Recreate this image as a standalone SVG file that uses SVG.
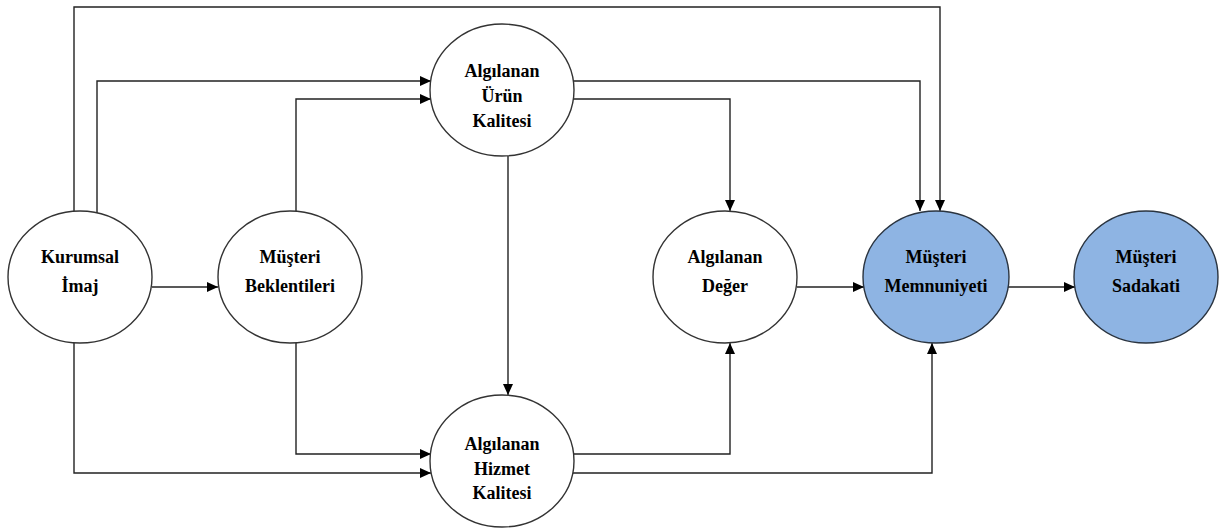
<svg xmlns="http://www.w3.org/2000/svg" width="1219" height="528" viewBox="0 0 1219 528">
<style>
.n{fill:#ffffff;stroke:#333333;stroke-width:1.4}
.b{fill:#8eb4e3;stroke:#2a3440;stroke-width:1.4}
.t{font-family:"Liberation Serif","Times New Roman",serif;font-weight:bold;font-size:18px;fill:#000;text-anchor:middle}
.c{fill:none;stroke:#222222;stroke-width:1.4;marker-end:url(#ah)}
</style>
<defs>
<marker id="ah" markerUnits="userSpaceOnUse" markerWidth="12" markerHeight="10" refX="11" refY="5" orient="auto">
<path d="M0,0 L11,5 L0,10 z" fill="#000"/>
</marker>
</defs>
<rect width="1219" height="528" fill="#ffffff"/>
<g id="connectors">
<path class="c" d="M74,212 V7 H940 V211"/>
<path class="c" d="M97,214 V81 H431"/>
<path class="c" d="M296,212 V99 H431"/>
<path class="c" d="M152,287 H218"/>
<path class="c" d="M573,81 H920 V211"/>
<path class="c" d="M573,99 H730 V211"/>
<path class="c" d="M508,156 V395"/>
<path class="c" d="M74,342 V473 H431"/>
<path class="c" d="M296,342 V454 H431"/>
<path class="c" d="M573,454 H730 V343"/>
<path class="c" d="M573,473 H932 V343"/>
<path class="c" d="M797,287 H864"/>
<path class="c" d="M1007,287 H1075"/>
</g>
<g id="kurumsal">
<ellipse class="n" cx="80" cy="277" rx="72" ry="66"/>
<text class="t" x="80" y="263">Kurumsal</text>
<text class="t" x="80" y="292">İmaj</text>
</g>
<g id="beklentiler">
<ellipse class="n" cx="290" cy="277" rx="72" ry="66"/>
<text class="t" x="290" y="263">Müşteri</text>
<text class="t" x="290" y="292">Beklentileri</text>
</g>
<g id="urun">
<ellipse class="n" cx="502" cy="90" rx="72" ry="66"/>
<text class="t" x="502" y="77">Algılanan</text>
<text class="t" x="502" y="102">Ürün</text>
<text class="t" x="502" y="127">Kalitesi</text>
</g>
<g id="hizmet">
<ellipse class="n" cx="502" cy="461" rx="72" ry="66"/>
<text class="t" x="502" y="450">Algılanan</text>
<text class="t" x="502" y="475">Hizmet</text>
<text class="t" x="502" y="499">Kalitesi</text>
</g>
<g id="deger">
<ellipse class="n" cx="725" cy="277" rx="72" ry="66"/>
<text class="t" x="725" y="263">Algılanan</text>
<text class="t" x="725" y="292">Değer</text>
</g>
<g id="memnuniyet">
<ellipse class="b" cx="936" cy="277" rx="73" ry="66"/>
<text class="t" x="936" y="263">Müşteri</text>
<text class="t" x="936" y="292">Memnuniyeti</text>
</g>
<g id="sadakat">
<ellipse class="b" cx="1146" cy="277" rx="72" ry="66"/>
<text class="t" x="1146" y="263">Müşteri</text>
<text class="t" x="1146" y="292">Sadakati</text>
</g>
</svg>
